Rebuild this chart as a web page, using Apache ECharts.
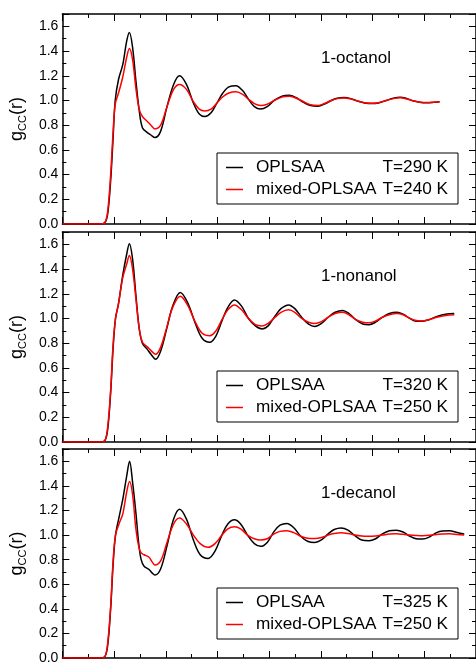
<!DOCTYPE html>
<html>
<head>
<meta charset="utf-8">
<script src="https://cdn.jsdelivr.net/npm/echarts@6/dist/echarts.min.js"></script>
<style>
  html, body { margin: 0; padding: 0; background: #fff; }
  #chart { width: 476px; height: 665px; }
</style>
</head>
<body>
<div id="chart"></div>
<script>
// Carbon-carbon radial distribution functions g_CC(r), r in nm.

// ---- 1-octanol ----
const rOctanol = [0, 0.362, 0.410, 0.438, 0.467, 0.489, 0.511, 0.543, 0.584, 0.622, 0.648, 0.679, 0.711, 0.743, 0.774, 0.822, 0.857, 0.895, 0.950, 1.012, 1.076, 1.133, 1.200, 1.267, 1.324, 1.378, 1.438, 1.495, 1.552, 1.610, 1.679, 1.743, 1.800, 1.857, 1.917, 1.981, 2.048, 2.124, 2.193, 2.257, 2.333, 2.400, 2.473, 2.533, 2.600, 2.657, 2.724, 2.790, 2.857, 2.924, 2.990, 3.057, 3.133, 3.200, 3.267, 3.333, 3.400, 3.467, 3.524, 3.590, 3.648];
const gOctanolOpls = [0, 0, 0.01, 0.08, 0.35, 0.67, 1.00, 1.17, 1.29, 1.48, 1.55, 1.43, 1.16, 0.92, 0.78, 0.74, 0.72, 0.70, 0.75, 0.95, 1.13, 1.20, 1.13, 0.98, 0.89, 0.87, 0.90, 0.98, 1.06, 1.11, 1.12, 1.08, 1.01, 0.95, 0.93, 0.95, 1.00, 1.035, 1.042, 1.025, 0.985, 0.96, 0.954, 0.97, 1.00, 1.018, 1.024, 1.015, 0.995, 0.98, 0.975, 0.98, 1.00, 1.018, 1.026, 1.015, 0.995, 0.984, 0.982, 0.985, 0.99];
const gOctanolMixed = [0, 0, 0.01, 0.10, 0.40, 0.72, 0.97, 1.06, 1.19, 1.35, 1.42, 1.33, 1.10, 0.93, 0.87, 0.83, 0.80, 0.77, 0.80, 0.95, 1.09, 1.13, 1.09, 0.99, 0.93, 0.915, 0.93, 0.98, 1.03, 1.06, 1.07, 1.05, 1.01, 0.975, 0.96, 0.97, 1.00, 1.027, 1.034, 1.02, 0.99, 0.965, 0.96, 0.975, 1.00, 1.015, 1.02, 1.012, 0.995, 0.982, 0.978, 0.982, 1.00, 1.015, 1.022, 1.012, 0.995, 0.985, 0.983, 0.986, 0.99];

// ---- 1-nonanol ----
const rNonanol = [0, 0.362, 0.410, 0.438, 0.467, 0.490, 0.514, 0.543, 0.584, 0.622, 0.648, 0.679, 0.711, 0.743, 0.774, 0.822, 0.857, 0.902, 0.952, 1.010, 1.067, 1.140, 1.210, 1.286, 1.352, 1.426, 1.486, 1.543, 1.600, 1.664, 1.733, 1.800, 1.867, 1.933, 1.990, 2.057, 2.114, 2.188, 2.248, 2.314, 2.381, 2.441, 2.505, 2.571, 2.638, 2.711, 2.771, 2.838, 2.905, 2.965, 3.029, 3.095, 3.162, 3.235, 3.295, 3.352, 3.410, 3.473, 3.543, 3.619, 3.705, 3.790];
const gNonanolOpls = [0, 0, 0.01, 0.10, 0.40, 0.75, 1.00, 1.12, 1.35, 1.52, 1.605, 1.48, 1.19, 0.92, 0.80, 0.75, 0.71, 0.67, 0.74, 0.92, 1.10, 1.21, 1.13, 0.96, 0.84, 0.807, 0.86, 0.98, 1.09, 1.15, 1.10, 1.00, 0.94, 0.915, 0.94, 1.02, 1.08, 1.11, 1.08, 1.01, 0.955, 0.936, 0.96, 1.01, 1.05, 1.065, 1.04, 0.99, 0.955, 0.95, 0.97, 1.01, 1.04, 1.05, 1.035, 1.005, 0.98, 0.977, 0.99, 1.015, 1.035, 1.04];
const gNonanolMixed = [0, 0, 0.01, 0.12, 0.42, 0.78, 1.00, 1.12, 1.33, 1.44, 1.51, 1.40, 1.16, 0.92, 0.81, 0.77, 0.74, 0.71, 0.77, 0.93, 1.09, 1.18, 1.11, 0.97, 0.88, 0.86, 0.90, 0.99, 1.07, 1.11, 1.07, 1.00, 0.95, 0.94, 0.96, 1.01, 1.05, 1.07, 1.05, 1.00, 0.97, 0.96, 0.975, 1.01, 1.04, 1.05, 1.03, 0.99, 0.97, 0.965, 0.98, 1.01, 1.03, 1.04, 1.03, 1.005, 0.985, 0.98, 0.99, 1.01, 1.025, 1.03];

// ---- 1-decanol ----
const rDecanol = [0, 0.362, 0.410, 0.438, 0.467, 0.490, 0.514, 0.552, 0.584, 0.622, 0.650, 0.679, 0.711, 0.740, 0.762, 0.790, 0.838, 0.870, 0.895, 0.950, 1.012, 1.076, 1.133, 1.200, 1.267, 1.333, 1.410, 1.476, 1.543, 1.600, 1.664, 1.724, 1.790, 1.857, 1.917, 1.981, 2.048, 2.105, 2.171, 2.238, 2.305, 2.371, 2.441, 2.505, 2.571, 2.629, 2.695, 2.762, 2.829, 2.895, 2.965, 3.029, 3.095, 3.162, 3.229, 3.295, 3.362, 3.419, 3.483, 3.552, 3.619, 3.676, 3.743, 3.819, 3.886];
const gDecanolOpls = [0, 0, 0.01, 0.10, 0.40, 0.75, 1.00, 1.16, 1.29, 1.48, 1.60, 1.43, 1.18, 0.92, 0.80, 0.746, 0.72, 0.69, 0.675, 0.724, 0.913, 1.13, 1.21, 1.13, 0.96, 0.84, 0.81, 0.87, 1.00, 1.09, 1.124, 1.09, 1.00, 0.93, 0.908, 0.94, 1.03, 1.08, 1.095, 1.06, 0.99, 0.95, 0.94, 0.96, 1.01, 1.045, 1.057, 1.04, 0.995, 0.96, 0.954, 0.97, 1.01, 1.035, 1.04, 1.025, 0.99, 0.97, 0.967, 0.985, 1.02, 1.033, 1.035, 1.02, 1.008];
const gDecanolMixed = [0, 0, 0.01, 0.12, 0.42, 0.78, 1.00, 1.10, 1.17, 1.35, 1.435, 1.33, 1.05, 0.90, 0.855, 0.84, 0.82, 0.78, 0.757, 0.79, 0.94, 1.09, 1.138, 1.09, 1.00, 0.93, 0.90, 0.93, 1.00, 1.05, 1.067, 1.05, 1.00, 0.97, 0.96, 0.97, 1.01, 1.03, 1.035, 1.02, 0.99, 0.975, 0.973, 0.98, 1.00, 1.012, 1.018, 1.012, 1.00, 0.992, 0.99, 0.993, 1.00, 1.008, 1.01, 1.006, 1.00, 0.997, 0.995, 0.998, 1.005, 1.008, 1.01, 1.005, 1.00];

// Panel labels and legend entries
const alcohols = ['1-octanol', '1-nonanol', '1-decanol'];
const oplsTemps = ['T=290 K', 'T=320 K', 'T=325 K'];
const mixedTemps = ['T=240 K', 'T=250 K', 'T=250 K'];
const modelNames = ['OPLSAA', 'mixed-OPLSAA'];

// Axis ranges
const xRange = [0, 4];
const xStep = 0.5;
const yRange = [0, 1.7];
const yStep = 0.2;

const FONT = '"Liberation Sans", Arial, Helvetica, sans-serif';
const BLACK = '#000000';
const RED = '#ff0000';
const LEGEND_SIZE = 17.2;

const panelData = [
  { r: rOctanol, a: gOctanolOpls, b: gOctanolMixed },
  { r: rNonanol, a: gNonanolOpls, b: gNonanolMixed },
  { r: rDecanol, a: gDecanolOpls, b: gDecanolMixed }
];

const panelTops = [14, 232, 449];
const panelHeight = 210;

const lineStyleAxis = { color: BLACK, width: 1.5 };
const tickStyle = { color: BLACK, width: 1 };

function xAxisFor(gi, pos) {
  return {
    gridIndex: gi, type: 'value', position: pos,
    min: xRange[0], max: xRange[1], interval: xStep,
    axisLine: { show: true, onZero: false, lineStyle: lineStyleAxis },
    axisTick: { show: true, inside: true, length: 7, lineStyle: tickStyle },
    minorTick: { show: true, splitNumber: 2, length: 4, lineStyle: tickStyle },
    axisLabel: { show: false },
    splitLine: { show: false },
    minorSplitLine: { show: false }
  };
}

function yAxisFor(gi, pos, labelled) {
  const ax = {
    gridIndex: gi, type: 'value', position: pos,
    min: yRange[0], max: yRange[1], interval: yStep,
    axisLine: { show: true, onZero: false, lineStyle: lineStyleAxis },
    axisTick: { show: true, inside: true, length: 7, lineStyle: tickStyle },
    minorTick: { show: true, splitNumber: 2, length: 4, lineStyle: tickStyle },
    splitLine: { show: false },
    minorSplitLine: { show: false },
    axisLabel: { show: false }
  };
  if (labelled) {
    ax.axisLabel = {
      show: true, margin: 4, fontSize: 14, color: BLACK, fontFamily: FONT,
      formatter: v => (v > 1.65 ? '' : v.toFixed(1))
    };
    ax.name = '{g|g}{s|CC}{g|(r)}';
    ax.nameLocation = 'middle';
    ax.nameRotate = 90;
    ax.nameGap = 29;
    ax.nameTextStyle = {
      color: BLACK, fontFamily: FONT,
      rich: {
        g: { fontSize: 18, lineHeight: 22, fontFamily: FONT, color: BLACK },
        s: { fontSize: 11, lineHeight: 16, verticalAlign: 'bottom', fontFamily: FONT, color: BLACK }
      }
    };
  }
  return ax;
}

const grids = [], xAxes = [], yAxes = [], series = [], legends = [], graphics = [];

panelData.forEach((p, i) => {
  const top = panelTops[i];
  grids.push({ left: 57, width: 420, top: top, height: panelHeight });
  xAxes.push(xAxisFor(i, 'bottom'), xAxisFor(i, 'top'));
  yAxes.push(yAxisFor(i, 'left', true), yAxisFor(i, 'right', false));

  const nameA = modelNames[0] + ' ' + oplsTemps[i];
  const nameB = modelNames[1] + ' ' + mixedTemps[i];
  series.push({
    name: nameA, type: 'line', xAxisIndex: i * 2, yAxisIndex: i * 2,
    data: p.r.map((r, k) => [r, p.a[k]]),
    showSymbol: false, symbol: 'none', smooth: 0.35,
    lineStyle: { color: BLACK, width: 1.5 }, itemStyle: { color: BLACK },
    z: 2
  });
  series.push({
    name: nameB, type: 'line', xAxisIndex: i * 2, yAxisIndex: i * 2,
    data: p.r.map((r, k) => [r, p.b[k]]),
    showSymbol: false, symbol: 'none', smooth: 0.35,
    lineStyle: { color: RED, width: 1.5 }, itemStyle: { color: RED },
    z: 3
  });

  legends.push({
    left: 217, top: top + 139, orient: 'vertical',
    data: [nameA, nameB],
    icon: 'rect', itemWidth: 17, itemHeight: 1.5, itemGap: 2,
    padding: [4.5, 10, 4.5, 9],
    borderColor: BLACK, borderWidth: 1, borderRadius: 0,
    backgroundColor: '#ffffff',
    selectedMode: false,
    formatter: name => {
      const cut = name.lastIndexOf(' T=');
      return '{sp| }{n|' + name.slice(0, cut) + '}{t|' + name.slice(cut + 1) + '}';
    },
    textStyle: {
      fontSize: LEGEND_SIZE, fontFamily: FONT, color: BLACK, lineHeight: 20,
      rich: {
        sp: { width: 8, fontSize: LEGEND_SIZE, fontFamily: FONT },
        n: { width: 126, fontSize: LEGEND_SIZE, fontFamily: FONT, color: BLACK },
        t: { width: 66, align: 'right', fontSize: LEGEND_SIZE, fontFamily: FONT, color: BLACK }
      }
    }
  });

  graphics.push({
    type: 'text', x: 321, y: top + 44,
    style: { text: alcohols[i], font: '17px ' + FONT, fill: BLACK, verticalAlign: 'middle', align: 'left' }
  });
});

const chart = echarts.init(document.getElementById('chart'), null, { renderer: 'canvas' });
chart.setOption({
  animation: false,
  backgroundColor: '#ffffff',
  grid: grids,
  xAxis: xAxes,
  yAxis: yAxes,
  legend: legends,
  series: series,
  graphic: graphics
});
</script>
</body>
</html>
